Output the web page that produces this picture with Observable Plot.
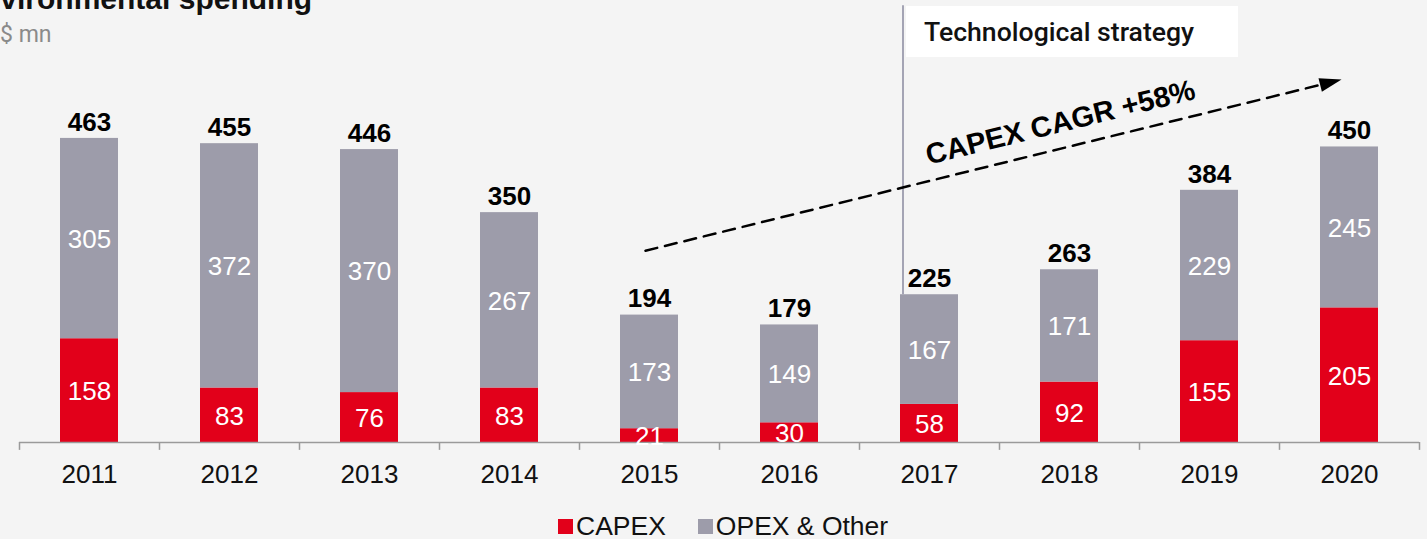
<!DOCTYPE html>
<html>
<head>
<meta charset="utf-8">
<script src="https://cdn.jsdelivr.net/npm/d3@7"></script>
<script src="https://cdn.jsdelivr.net/npm/@observablehq/plot@0.6"></script>
<style>
  html, body { margin: 0; padding: 0; background: #f4f4f4; overflow: hidden; }
  body { width: 1427px; height: 539px; position: relative; font-family: "Liberation Sans", Arial, sans-serif; }
  #title { position: absolute; left: -38px; top: -16px; font: bold 30px/1 "Liberation Sans", Arial, sans-serif; color: #111; white-space: nowrap; }
  #subtitle { position: absolute; left: 0; top: 23px; font: 23px/1 Roboto, sans-serif; color: #8a8a8a; }
  #chart { position: absolute; left: 0; top: 0; }
  #box { position: absolute; left: 906px; top: 6px; width: 332px; height: 51px; background: #fff;
         font: 500 26.6px/51px Roboto, sans-serif; color: #111; box-sizing: border-box; padding-left: 18px; white-space: nowrap; }
  #legend { position: absolute; left: 558px; top: 513px; height: 26px; display: flex; align-items: center;
            font: 26.5px/26px "Liberation Sans", Arial, sans-serif; color: #111; white-space: nowrap; }
  .sw { display: inline-block; width: 15px; height: 15px; margin-right: 3px; }
  .item { display: flex; align-items: center; margin-right: 32px; }
</style>
</head>
<body>
<div id="chart"></div>
<div id="title">Environmental spending</div>
<div id="subtitle">$ mn</div>
<div id="box">Technological strategy</div>
<div id="legend"></div>
<script>
// ---- data ----
const years  = ["2011","2012","2013","2014","2015","2016","2017","2018","2019","2020"];
const capex  = [158, 83, 76, 83, 21, 30, 58, 92, 155, 205];
const opex   = [305, 372, 370, 267, 173, 149, 167, 171, 229, 245];
const totals = [463, 455, 446, 350, 194, 179, 225, 263, 384, 450];
const series = ["CAPEX", "OPEX & Other"];
const colors = ["#e2001a", "#9d9caa"];

// annotations (data space)
const strategyLine = [{x: "2017", y1: 225, y2: 665}];
const trendArrow   = [{x1: "2015", y1: 292, x2: "2020", y2: 554}];
const arrowHead    = [{x: "2020", y: 547}];
const cagrLabel    = [{x: "2018", y: 487, text: "CAPEX CAGR +58%"}];

// ---- build table ----
const long = [];
years.forEach((yr, i) => {
  long.push({year: yr, series: series[0], value: capex[i]});
  long.push({year: yr, series: series[1], value: opex[i]});
});
const totalRows = years.map((yr, i) => ({year: yr, total: totals[i]}));

const W = 1427, H = 505, mL = 19, mR = 8, mB = 63;
const step = (W - mL - mR) / years.length;

const headSymbol = {
  draw(ctx) {
    ctx.moveTo(0, -15);
    ctx.lineTo(7, 7);
    ctx.lineTo(-7, 7);
    ctx.closePath();
  }
};

const chart = Plot.plot({
  width: W, height: H,
  marginLeft: mL, marginRight: mR, marginTop: 0, marginBottom: mB,
  style: {background: "transparent", fontFamily: "'Liberation Sans', Arial, sans-serif", overflow: "visible"},
  x: {domain: years, paddingInner: 0.586, paddingOuter: 0.293, label: null},
  y: {domain: [0, 673], axis: null},
  color: {domain: series, range: colors},
  marks: [
    Plot.ruleX(strategyLine, {x: "x", y1: "y1", y2: "y2", dx: -26.5, stroke: "#a4a4b4", strokeWidth: 2}),
    Plot.barY(long, {x: "year", y: "value", fill: "series"}),
    Plot.ruleY([0], {stroke: "#9a9a9a", strokeWidth: 1.5}),
    Plot.ruleX(years, {x: d => d, y1: 0, y2: -12, dx: -step / 2, stroke: "#9a9a9a", strokeWidth: 1.5}),
    Plot.ruleX(years.slice(-1), {x: d => d, y1: 0, y2: -12, dx: step / 2, stroke: "#9a9a9a", strokeWidth: 1.5}),
    Plot.text(long, Plot.stackY({x: "year", y: "value", z: "series", text: d => String(d.value),
      fill: "white", fontSize: 26, dy: 1})),
    Plot.text(totalRows, {x: "year", y: "total", text: d => String(d.total), dy: -16,
      fontSize: 26, fontWeight: "bold", fill: "#000"}),
    Plot.arrow(trendArrow, {x1: "x1", y1: "y1", x2: "x2", y2: "y2", dx: -4, headLength: 0, insetEnd: 19,
      stroke: "#000", strokeWidth: 2.5, strokeDasharray: "12,8", bend: 0}),
    Plot.dot(arrowHead, {x: "x", y: "y", dx: -22.5, symbol: headSymbol, r: 5, fill: "#000", stroke: "none", rotate: 76}),
    Plot.text(cagrLabel, {x: "x", y: "y", text: "text", dx: -9, rotate: -13.8, fontSize: 29, fontWeight: "bold", fill: "#000"}),
    Plot.axisX({tickSize: 0, tickPadding: 22, fontSize: 26, fill: "#111", label: null})
  ]
});
document.getElementById("chart").appendChild(chart);

// legend
const leg = document.getElementById("legend");
series.forEach((s, i) => {
  const item = document.createElement("span");
  item.className = "item";
  const sw = document.createElement("span");
  sw.className = "sw";
  sw.style.background = colors[i];
  item.appendChild(sw);
  item.appendChild(document.createTextNode(s));
  leg.appendChild(item);
});
</script>
</body>
</html>
